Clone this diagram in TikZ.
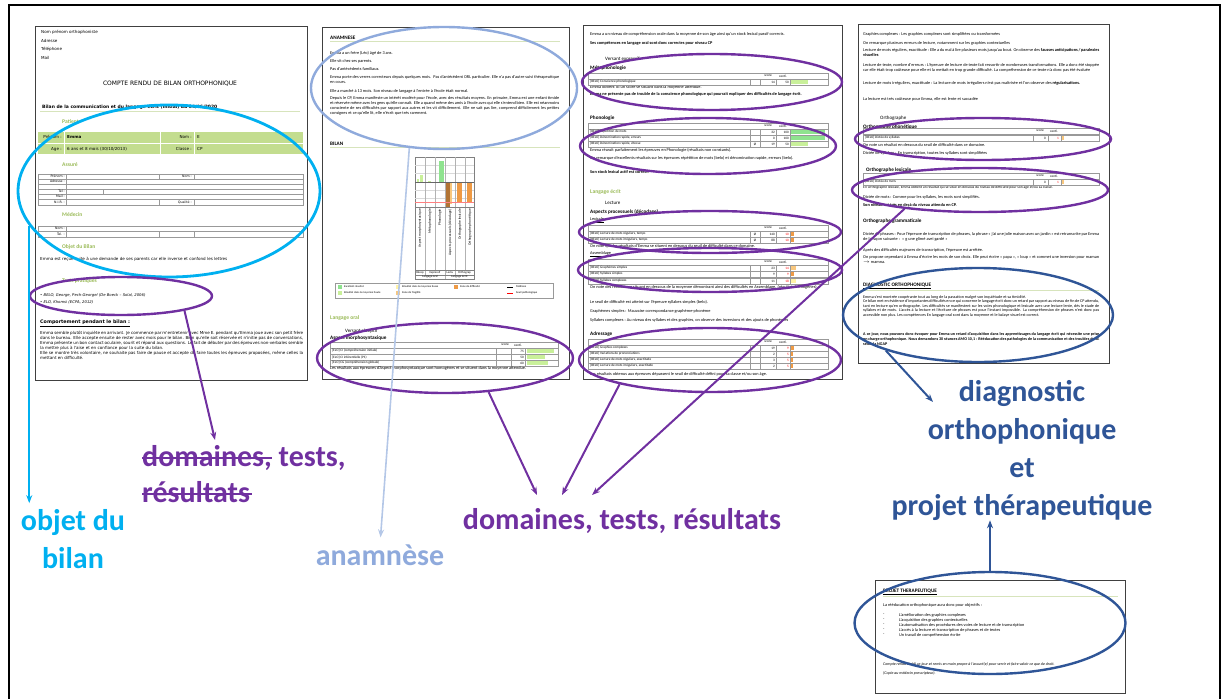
\documentclass[tikz,border=0pt]{standalone}
\usepackage{fontspec}
\setmainfont{Carlito}
\newfontfamily\pageone{DejaVu Sans}
\usetikzlibrary{shapes.geometric, arrows.meta}

\definecolor{objcyan}{HTML}{00B0F0}
\definecolor{testpurple}{HTML}{7030A0}
\definecolor{anaarrow}{HTML}{B4C7E7}
\definecolor{anablue}{HTML}{8FAADC}
\definecolor{diagblue}{HTML}{2F5597}
\definecolor{headgreen}{HTML}{9BBB59}
\definecolor{rulegreen}{HTML}{D7E4BC}
\definecolor{rowgreen}{HTML}{C3DD8F}
\definecolor{barexc}{HTML}{8FE38F}
\definecolor{barhigh}{HTML}{C9F09A}
\definecolor{barlow}{HTML}{FFF2A6}
\definecolor{barfrag}{HTML}{F8C77E}
\definecolor{bardiff}{HTML}{EE9A45}

\begin{document}
\begin{tikzpicture}[x=1pt, y=-1pt,
    page/.style={draw=black!75, line width=0.9pt, fill=white},
    ptxt/.style={anchor=west, inner sep=0pt, font=\fontsize{4.3}{5}\selectfont},
    pbold/.style={ptxt, font=\fontsize{4.3}{5}\selectfont\bfseries},
    ppar/.style={anchor=north west, inner sep=0pt, align=justify, font=\fontsize{4.3}{5}\selectfont},
    phead/.style={anchor=west, inner sep=0pt, font=\fontsize{5.2}{6}\selectfont\bfseries},
    pgreen/.style={anchor=west, inner sep=0pt, text=headgreen, font=\fontsize{5.6}{6}\selectfont\bfseries},
    p1txt/.style={anchor=west, inner sep=0pt, font=\pageone\fontsize{4.1}{4.8}\selectfont},
    p1small/.style={anchor=east, inner sep=0pt, font=\pageone\fontsize{3.2}{4}\selectfont},
    tsmall/.style={inner sep=0pt, font=\fontsize{3.4}{4}\selectfont},
    lgtxt/.style={anchor=west, inner sep=0pt, font=\fontsize{2.8}{3}\selectfont},
    tabline/.style={draw=black!40, line width=0.4pt},
    ell/.style={draw, ellipse, inner sep=0pt, line width=2.4pt},
    arr/.style={line width=2pt, -{Stealth[length=8pt, width=6pt]}},
    biglbl/.style={inner sep=0pt, align=center, font=\fontsize{30}{38}\selectfont\bfseries}
]
\useasboundingbox (0,0) rectangle (1222,698);

% Cadre
\draw[line width=2.6pt] (9,705) -- (9,5) -- (1220,5) -- (1220,705);

% Page 1 : renseignements administratifs
\draw[page] (35,26) rectangle (307,380);
\node[p1txt] (p1nom) at (41,32) {Nom prénom orthophoniste};
\node[p1txt] (p1adr) at (41,41) {Adresse};
\node[p1txt] (p1tel) at (41,49) {Téléphone};
\node[p1txt] (p1mail) at (41,58) {Mail};
\node[inner sep=0pt, font=\pageone\fontsize{6}{7}\selectfont] (p1titre) at (170,84) {COMPTE RENDU DE BILAN ORTHOPHONIQUE};
\node[p1txt, font=\pageone\fontsize{4.5}{5}\selectfont\bfseries] (p1bilan) at (42,107) {Bilan de la communication et du langage écrit (initial) du 04/06/2020};
\draw[rulegreen, line width=0.8pt] (40,111) -- (300,111);
\node[pgreen] (p1pat) at (62,122) {Patient};
\fill[rowgreen] (38,132) rectangle (303,154);
\draw[white, line width=0.6pt] (38,143) -- (303,143);
\foreach \vx in {64,160,194} \draw[white, line width=0.6pt] (\vx,132) -- (\vx,154);
\node[p1txt, anchor=east] (p1pren) at (62,137) {Prénom :};
\node[p1txt, font=\pageone\fontsize{4.1}{4.8}\selectfont\bfseries] (p1emma) at (67,137) {Emma};
\node[p1txt, anchor=east] (p1nomp) at (192,137) {Nom :};
\node[p1txt] (p1e) at (197,137) {E};
\node[p1txt, anchor=east] (p1age) at (62,149) {Age :};
\node[p1txt] (p1ans) at (67,149) {6 ans et 8 mois (30/10/2013)};
\node[p1txt, anchor=east] (p1cl) at (192,149) {Classe :};
\node[p1txt] (p1cp) at (197,149) {CP};

\node[pgreen] (p1ass) at (62,165) {Assuré};
\draw[tabline] (38,174) rectangle (303,205);
\foreach \hy in {179,184,189,194,199} \draw[tabline] (38,\hy) -- (303,\hy);
\draw[tabline] (66,174) -- (66,205) (159,174) -- (159,179) (194,174) -- (194,179)
  (159,199) -- (159,205) (194,199) -- (194,205) (103,189) -- (103,194);
\foreach \ly/\lt [count=\i] in {176.5/Prénom :, 181.5/Adresse :, 191.5/Tel :, 196.5/Mail :, 202/N.I.R. :}
  \node[p1small] (p1as\i) at (65,\ly) {\lt};
\node[p1small] (p1asnom) at (192,176.5) {Nom :};
\node[p1small] (p1asqual) at (192,202) {Qualité :};

\node[pgreen] (p1med) at (62,215) {Médecin};
\draw[tabline] (38,226) rectangle (303,237);
\draw[tabline] (38,231.5) -- (303,231.5) (66,226) -- (66,237) (159,231.5) -- (159,237) (194,231.5) -- (194,237);
\node[p1small] (p1mednom) at (65,228.8) {Nom :};
\node[p1small] (p1medtel) at (65,234.2) {Tel. :};

\node[pgreen] (p1obj) at (62,247) {Objet du Bilan};
\node[p1txt] (p1objt) at (40,259) {Emma est reçue suite à une demande de ses parents car elle inverse et confond les lettres};
\node[pgreen] (p1tests) at (62,281) {Tests pratiqués};
\node[p1txt, font=\pageone\fontsize{3.8}{4.5}\selectfont\itshape] (p1belo) at (40,295) {• BELO, George, Pech-Georgel (De Boeck – Solal, 2006)};
\node[p1txt, font=\pageone\fontsize{3.8}{4.5}\selectfont\itshape] (p1elo) at (40,302) {• ELO, Khomsi (ECPA, 2012)};
\node[p1txt, font=\pageone\fontsize{4.8}{5}\selectfont\bfseries] (p1comp) at (40,323) {\underline{Comportement pendant le bilan :}};
\node[ppar, text width=263pt, font=\pageone\fontsize{4.1}{4.85}\selectfont] (p1para) at (40,331.5) {Emma semble plutôt inquiète en arrivant. Je commence par m'entretenir avec Mme E. pendant qu'Emma joue avec son petit frère dans le bureau. Elle accepte ensuite de rester avec mois pour le bilan. Bien qu'elle soit réservée et n'initie pas de conversations, Emma présente un bon contact oculaire, sourit et répond aux questions. Le fait de débuter par des épreuves non-verbales semble la mettre plus à l'aise et en confiance pour la suite du bilan.\\Elle se montre très volontaire, ne souhaite pas faire de pause et accepte de faire toutes les épreuves proposées, même celles la mettant en difficulté.};

% Page 2 : anamnese et graphique
\draw[page] (322,27) rectangle (569,379);
\node[phead] (p2ana) at (330,38) {ANAMNESE};
\draw[rulegreen, line width=0.8pt] (330,41) -- (560,41);
\node[ptxt] (p2a) at (330,53) {Emma a un frère (Léo) âgé de 3 ans.};
\node[ptxt] (p2b) at (330,61) {Elle vit chez ses parents.};
\node[ptxt] (p2c) at (330,69) {Pas d'antécédents familiaux.};
\node[ppar, text width=229pt] (p2d) at (330,75.5) {Emma porte des verres correcteurs depuis quelques mois.~ Pas d'antécédent ORL particulier. Elle n'a pas d'autre suivi thérapeutique en cours.};
\node[ptxt] (p2e) at (330,91) {Elle a marché à 13 mois. Son niveau de langage à l'entrée à l'école était normal.};
\node[ppar, text width=229pt] (p2f) at (330,96.5) {Depuis le CP, Emma manifeste un intérêt modéré pour l'école, avec des résultats moyens. En primaire, Emma est une enfant timide et réservée même avec les gens qu'elle connaît. Elle a quand même des amis à l'école avec qui elle s'entend bien. Elle est néanmoins consciente de ses difficultés par rapport aux autres et les vit difficilement. Elle ne sait pas lire, comprend difficilement les petites consignes et ce qu'elle lit, elle n'écrit que très rarement.};
\node[phead] (p2bilan) at (330,144) {BILAN};
\draw[rulegreen, line width=0.8pt] (330,147) -- (560,147);

% Graphique
\draw[black!50, line width=0.5pt] (415,157) rectangle (474,279);
\foreach \gy in {165,173,190,198} \draw[black!15, line width=0.3pt] (415,\gy) -- (474,\gy);
\foreach \gx in {435,465} \draw[black!30, line width=0.3pt] (\gx,157) -- (\gx,270);
\foreach \gx in {425,455} \draw[black!30, line width=0.3pt] (\gx,157) -- (\gx,275);
\draw[black!30, line width=0.3pt] (445,157) -- (445,279);
\fill[barhigh] (417,182) rectangle (419,179);
\fill[barhigh] (420,182) rectangle (423,175);
\fill[barhigh] (428,182) rectangle (431,180.5);
\fill[barexc] (439,182) rectangle (444,161);
\fill[bardiff!75!black] (446,182) rectangle (450,207);
\fill[barfrag] (450,182) rectangle (452,204);
\fill[bardiff] (457,182) rectangle (462,202);
\fill[bardiff] (467,182) rectangle (472,202);
\draw[red!50, line width=0.8pt] (415,202) -- (474,202);
\draw[black!60, line width=0.4pt] (415,182) -- (474,182);
\draw[black!50, line width=0.4pt] (415,207) -- (474,207) (415,270) -- (474,270) (415,275) -- (474,275);
\foreach \cx/\cl [count=\i] in {420/Aspect morphosyntaxique, 430/Métaphonologie, 440/Phonologie,
    450/Aspects processuels (décodage), 460/Orthographe lexicale, 470/Orthographe phonétique}
  \node[rotate=90, anchor=east, inner sep=0pt, font=\fontsize{3.6}{4}\selectfont] (gl\i) at (\cx,209) {\cl};
\foreach \cx/\cl [count=\i] in {420/Récep, 435/Expressif, 450/Lectu, 464.5/Orthograp}
  \node[tsmall, font=\fontsize{3}{3.5}\selectfont] (gr\i) at (\cx,272.6) {\cl};
\node[tsmall, font=\fontsize{3}{3.5}\selectfont] (grorale) at (430,277.2) {Langage oral};
\node[tsmall, font=\fontsize{3}{3.5}\selectfont] (grecrit) at (459.5,277.2) {Langage écrit};

% Legende
\draw[black!40, line width=0.4pt] (335,283) rectangle (553,298);
\foreach \lx/\ly/\lc/\lt [count=\i] in {338/287/barexc/Excellent résultat, 338/293/barhigh/Résultat dans la moyenne haute,
    396/287/barlow/Résultat dans la moyenne basse, 396/293/barfrag/Zone de fragilité, 454/287/bardiff/Zone de difficulté} {
  \fill[\lc] (\lx,\ly-2) rectangle ++(4,4);
  \node[lgtxt] (lg\i) at (\lx+6,\ly) {\lt};
}
\draw[black, line width=0.6pt] (507,287) -- (513,287);
\node[lgtxt] (lgmed) at (516,287) {Médiane};
\draw[red, line width=0.6pt] (507,293) -- (513,293);
\node[lgtxt] (lgseuil) at (516,293) {Seuil pathologique};

\node[pgreen] (p2oral) at (330,318) {Langage oral};
\node[ptxt, font=\fontsize{5}{6}\selectfont] (p2rec) at (345,331) {Versant réceptif};
\node[phead] (p2morph) at (330,338) {Aspect morphosyntaxique};
\draw[tabline] (330,342) rectangle (558,348);
\node[tsmall] (p2sc) at (505,345) {score};
\node[tsmall] (p2ce) at (518,345) {centi.};
\foreach \ry/\rn/\rs/\rw [count=\i] in {351/{[ELO] CI (compréhension initiale)}/75/27,
    357/{[ELO] CI inférentielle (P1)}/50/18, 363/{[ELO] CG (compréhension globale)}/60/21} {
  \draw[tabline] (330,\ry-3) rectangle (558,\ry+3);
  \draw[tabline] (496,\ry-3) -- (496,\ry+3) (511,\ry-3) -- (511,\ry+3) (525,\ry-3) -- (525,\ry+3);
  \node[tsmall, anchor=west] (t2n\i) at (332,\ry) {\rn};
  \node[tsmall, anchor=east] (t2c\i) at (524,\ry) {\rs};
  \fill[barhigh] (527,\ry-2.2) rectangle ++(\rw,4.4);
}
\node[ptxt] (p2res) at (330,368.5) {Les résultats aux épreuves d'Aspect morphosyntaxique sont homogènes et se situent dans la moyenne attendue.};

% Page 3 : langage oral et lecture
\draw[page] (583,25) rectangle (842,379);
\node[ptxt] (p3a) at (590,34) {Emma a un niveau de compréhension orale dans la moyenne de son âge ainsi qu'un stock lexical passif corrects.};
\node[pbold] (p3b) at (590,43) {Ses compétences en langage oral sont donc correctes pour niveau CP};
\node[ptxt, font=\fontsize{5}{6}\selectfont] (p3c) at (605,59) {Versant expressif};
\node[phead] (p3d) at (590,68) {Métaphonologie};
\node[ptxt] (p3e) at (590,87) {Emma obtient ici un score se situant dans la moyenne attendue.};
\node[ppar, text width=240pt, font=\fontsize{4.3}{5}\selectfont\bfseries] (p3f) at (590,92.5) {Emma ne présente pas de trouble de la conscience phonologique qui pourrait expliquer des difficultés de langage écrit.};
\node[phead] (p3g) at (590,118) {Phonologie};
\node[ptxt] (p3h) at (590,150) {Emma réussit parfaitement les épreuves en Phonologie (résultats non constants).};
\node[ppar, text width=240pt] (p3i) at (590,156) {On remarque d'excellents résultats sur les épreuves répétition de mots (belo) et dénomination rapide, erreurs (belo).};
\node[pbold] (p3j) at (590,172) {Son stock lexical actif est correct.};
\node[pgreen] (p3k) at (590,192) {Langage écrit};
\node[ptxt, font=\fontsize{5}{6}\selectfont] (p3l) at (605,203) {Lecture};
\node[phead] (p3m) at (590,212) {Aspects processuels (décodage)};
\node[ptxt] (p3n) at (590,220) {\underline{Lexicale}};
\node[ptxt] (p3o) at (590,246.5) {On note que les résultats d'Emma se situent en dessous du seuil de difficulté dans ce domaine.};
\node[ptxt] (p3p) at (590,254) {\underline{Assemblage}};
\node[ppar, text width=240pt] (p3q) at (590,285) {On note des résultats se situant en dessous de la moyenne démontrant ainsi des difficultés en Assemblage. (résultats homogènes).};
\node[ptxt] (p3r) at (590,302) {Le seuil de difficulté est atteint sur l'épreuve syllabes simples (belo).};
\node[ptxt] (p3s) at (590,311) {Graphèmes simples : Mauvaise correspondance graphème-phonème};
\node[ptxt] (p3t) at (590,320) {Syllabes complexes : Au niveau des syllabes et des graphies, on observe des inversions et des ajouts de phonèmes};
\node[phead] (p3u) at (590,334) {Adressage};
\node[ptxt] (p3v) at (590,374) {Les résultats obtenus aux épreuves dépassent le seuil de difficulté défini pour sa classe et/ou son âge.};

% Tableaux de la page 3
\foreach \hy [count=\i] in {76,126,228,262,342} {
  \draw[tabline] (588,\hy-3) rectangle (828,\hy+3);
  \node[tsmall] (h3s\i) at (768,\hy) {score};
  \node[tsmall] (h3c\i) at (783,\hy) {centi.};
}
\foreach \ry/\rn/\rz/\rs/\rc/\rk/\rw/\rf [count=\i] in {
    82/{[BELO] Conscience phonologique}/{}/14/50/black/17/barhigh,
    132/{[BELO] Répétition de mots}/{}/32/100/black/34/barexc,
    138/{[BELO] Dénomination rapide, erreurs}/{}/0/100/black/34/barexc,
    144/{[BELO] Dénomination rapide, vitesse}/Ø/19/50/black/17/barhigh,
    234/{[BELO] Lecture de mots réguliers, temps}/Ø/140/10/red/3/bardiff,
    240/{[BELO] Lecture de mots irréguliers, temps}/Ø/88/10/red/3/bardiff,
    268/{[BELO] Graphèmes simples}/{}/23/14/red/5/barfrag,
    274/{[BELO] Syllabes simples}/{}/9/9/red/3/bardiff,
    281/{[BELO] Syllabes complexes}/{}/11/18/red/5/barlow,
    348/{[BELO] Graphies complexes}/{}/19/9/red/3/bardiff,
    354/{[BELO] Variations de prononciations}/{}/2/5/red/1.5/bardiff,
    360/{[BELO] Lecture de mots réguliers, exactitude}/{}/3/5/red/1.5/bardiff,
    366/{[BELO] Lecture de mots irréguliers, exactitude}/{}/2/5/red/1.5/bardiff} {
  \draw[tabline] (588,\ry-3) rectangle (828,\ry+3);
  \draw[tabline] (750,\ry-3) -- (750,\ry+3) (760,\ry-3) -- (760,\ry+3) (776,\ry-3) -- (776,\ry+3) (790,\ry-3) -- (790,\ry+3);
  \node[tsmall, anchor=west] (t3n\i) at (590,\ry) {\rn};
  \node[tsmall] (t3z\i) at (755,\ry) {\rz};
  \node[tsmall, anchor=east] (t3s\i) at (775,\ry) {\rs};
  \node[tsmall, anchor=east, text=\rk] (t3c\i) at (789,\ry) {\rc};
  \fill[\rf] (791,\ry-2.2) rectangle ++(\rw,4.4);
}

% Page 4 : orthographe et diagnostic
\draw[page] (858,24) rectangle (1109,363);
\node[ptxt] (p4a) at (863,34) {Graphies complexes : Les graphies complexes sont simplifiées ou transformées};
\node[ptxt] (p4b) at (863,43) {On remarque plusieurs erreurs de lecture, notamment sur les graphies contextuelles};
\node[ppar, text width=236pt] (p4c) at (863,48.5) {Lecture de mots réguliers, exactitude : Elle a du mal à lire plusieurs mots jusqu'au bout. On observe des \textbf{fausses anticipations / paralexies visuelles}};
\node[ppar, text width=236pt] (p4d) at (863,63.5) {Lecture de texte, nombre d'erreurs : L'épreuve de lecture de texte fait ressortir de nombreuses transformations. Elle a donc été stoppée car elle était trop coûteuse pour elle et la mettait en trop grande difficulté. La compréhension de ce texte n'a donc pas été évaluée};
\node[ppar, text width=236pt] (p4e) at (863,81.5) {Lecture de mots irréguliers, exactitude : La lecture de mots irréguliers n'est pas maîtrisée et l'on observe des \textbf{régularisations.}};
\node[ptxt] (p4f) at (863,99) {La lecture est très coûteuse pour Emma, elle est lente et saccadée};
\node[ptxt, font=\fontsize{5}{6}\selectfont] (p4g) at (880,118) {Orthographe};
\node[phead] (p4h) at (863,127) {Orthographe phonétique};
\node[ptxt] (p4i) at (863,145) {On note un résultat en dessous du seuil de difficulté dans ce domaine.};
\node[ptxt] (p4j) at (863,153) {Dictée de syllabes : En transcription, toutes les syllabes sont simplifiées};
\node[phead] (p4k) at (866,170) {Orthographe lexicale};
\node[ptxt, font=\fontsize{3.7}{4.5}\selectfont] (p4l) at (863,188) {En Orthographe lexicale, Emma obtient un résultat qui se situe en dessous du niveau de difficulté pour son âge et/ou sa classe.};
\node[ptxt] (p4m) at (863,197) {Dictée de mots : Comme pour les syllabes, les mots sont simplifiés.};
\node[pbold] (p4n) at (863,205) {Son niveau est très en deçà du niveau attendu en CP.};
\node[phead] (p4o) at (863,221) {Orthographe grammaticale};
\node[ppar, text width=236pt] (p4p) at (863,232.5) {Dictée de phrases : Pour l'épreuve de transcription de phrases, la phrase « j'ai une jolie maison avec un jardin » est retranscrite par Emma de la façon suivante :~ « g une glimé avei gardé »};
\node[ptxt] (p4q) at (863,250) {Après des difficultés majeures de transcription, l'épreuve est arrêtée.};
\node[ppar, text width=236pt] (p4r) at (863,255.5) {On propose cependant à Emma d'écrire les mots de son choix. Elle peut écrire « papa », « loup » et commet une inversion pour maman $\to$ mamna.};
\node[phead] (p4s) at (863,286) {\underline{DIAGNOSTIC ORTHOPHONIQUE}};
\draw[rulegreen, line width=0.8pt] (863,290) -- (1099,290);
\node[ppar, text width=236pt, font=\fontsize{4.1}{4.6}\selectfont] (p4t) at (863,295) {Emma s'est montrée coopérante tout au long de la passation malgré son inquiétude et sa timidité.\\Ce bilan met en évidence d'importantes difficultés en ce qui concerne le langage écrit donc un retard par rapport au niveau de fin de CP attendu, tant en lecture qu'en orthographe. Les difficultés se manifestent sur les voies phonologique et lexicale avec une lecture lente, dès le stade de syllabes et de mots. L'accès à la lecture et l'écriture de phrases est pour l'instant impossible. La compréhension de phrases n'est donc pas accessible non plus. Les compétences En langage oral sont dans la moyenne et le balaye visuel est correct.};
\node[ppar, text width=236pt, font=\fontsize{4.1}{4.8}\selectfont\bfseries] (p4u) at (863,332.5) {A ce jour, nous pouvons donc évoquer pour Emma un retard d'acquisition dans les apprentissages du langage écrit qui nécessite une prise en charge orthophonique. Nous demandons 30 séances AMO 10,1 : Rééducation des pathologies de la communication et des troubles du LE selon la NGAP};

% Tableaux de la page 4
\foreach \hy [count=\i] in {131,176} {
  \draw[tabline] (863,\hy-3) rectangle (1099,\hy+3);
  \node[tsmall] (h4s\i) at (1040,\hy) {score};
  \node[tsmall] (h4c\i) at (1054,\hy) {centi.};
}
\foreach \ry/\rn [count=\i] in {138/{[BELO] Dictée de syllabes}, 182/{[BELO] Dictée de mots}} {
  \draw[tabline] (863,\ry-3) rectangle (1099,\ry+3);
  \draw[tabline] (1033,\ry-3) -- (1033,\ry+3) (1048,\ry-3) -- (1048,\ry+3) (1061,\ry-3) -- (1061,\ry+3);
  \node[tsmall, anchor=west] (t4n\i) at (865,\ry) {\rn};
  \node[tsmall, anchor=east] (t4s\i) at (1046,\ry) {0};
  \node[tsmall, anchor=east, text=red] (t4c\i) at (1059,\ry) {1};
  \fill[barfrag] (1062,\ry-2.2) rectangle ++(1.5,4.4);
}

% Page 5 : projet therapeutique
\draw[page] (875,580) rectangle (1125,693);
\node[phead] (p5a) at (883,592) {\underline{PROJET THERAPEUTIQUE}};
\draw[rulegreen, line width=0.8pt] (883,596) -- (1118,596);
\node[ptxt] (p5b) at (883,605) {La rééducation orthophonique aura donc pour objectifs :};
\foreach \oy/\ot [count=\i] in {615/L'amélioration des graphies complexes, 620/L'acquisition des graphies contextuelles,
    625/L'automatisation des procédures des voies de lecture et de transcription,
    630/L'accès à la lecture et transcription de phrases et de textes, 635/Un travail de compréhension écrite} {
  \node[ptxt] (p5t\i) at (883,\oy) {-};
  \node[ptxt] (p5o\i) at (899,\oy) {\ot};
}
\node[ptxt, font=\fontsize{4}{5}\selectfont\itshape] (p5c) at (883,664) {Compte rendu établi ce jour et remis en main propre à l'assuré(e) pour servir et faire valoir ce que de droit.};
\node[ptxt, font=\fontsize{4}{5}\selectfont\itshape] (p5d) at (883,673) {(Copie au médecin prescripteur).};

% Ellipses
\node[ell, draw=objcyan, line width=2.8pt, minimum width=302pt, minimum height=172pt] (objell) at (169,191) {};
\node[ell, draw=testpurple, minimum width=182pt, minimum height=38pt] (tpell) at (121,296) {};
\node[ell, draw=anablue, minimum width=266pt, minimum height=122pt] (anaell) at (444,88) {};
\node[ell, draw=testpurple, minimum width=256pt, minimum height=70pt] (oralell) at (445,358) {};
\node[ell, draw=testpurple, minimum width=260pt, minimum height=56pt] (metaell) at (712,82) {};
\node[ell, draw=testpurple, minimum width=256pt, minimum height=56pt] (phonell) at (708,146) {};
\node[ell, draw=testpurple, minimum width=262pt, minimum height=42pt] (lexell) at (710,232) {};
\node[ell, draw=testpurple, minimum width=264pt, minimum height=44pt] (assell) at (710,270) {};
\node[ell, draw=testpurple, minimum width=262pt, minimum height=64pt] (adrell) at (710,360) {};
\node[ell, draw=testpurple, minimum width=256pt, minimum height=42pt] (orphell) at (983,139) {};
\node[ell, draw=testpurple, minimum width=256pt, minimum height=44pt] (orlexell) at (980,190) {};
\node[ell, draw=diagblue, minimum width=270pt, minimum height=94pt] (diagell) at (978,315) {};
\node[ell, draw=diagblue, minimum width=271pt, minimum height=102pt] (projell) at (990,623) {};

% Etiquettes
\node[biglbl, text=objcyan] (objlbl) at (73,539) {objet du\\bilan};
\node[biglbl, text=testpurple, anchor=west, align=left, font=\fontsize{30}{36}\selectfont\bfseries] (strikelbl) at (142,474) {domaines, tests,\\résultats};
\draw[testpurple, line width=2.2pt] (strikelbl.north west) ++(0,13) -- ++(130,0);
\draw[testpurple, line width=2.2pt] (strikelbl.north west) ++(0,49) -- ++(110,0);
\node[biglbl, text=anablue] (anamlbl) at (380,555) {anamnèse};
\node[biglbl, text=testpurple] (domlbl) at (622,521) {domaines, tests, résultats};
\node[biglbl, text=diagblue] (diaglbl) at (1022,450) {diagnostic\\orthophonique\\et\\projet thérapeutique};

% Fleches
\coordinate (strtip) at (215,440);
\coordinate (dt1) at (537,495);
\coordinate (dt2) at (562,495);
\coordinate (dt3) at (592,495);
\coordinate (diagtip) at (933,402);
\draw[arr, objcyan, shorten >=6pt] (objell.194) -- (objell.194 |- objlbl.north);
\draw[arr, testpurple] (tpell.347) -- (strtip);
\draw[arr, anaarrow, line width=1.6pt, shorten >=7pt] (anaell.240) -- (anamlbl.north);
\draw[arr, testpurple] (oralell.322) -- (dt1);
\draw[arr, testpurple] (adrell.195) -- (dt2);
\draw[arr, testpurple] (orlexell.194) -- (dt3);
\draw[arr, diagblue] (diagell.201) -- (diagtip);
\draw[arr, diagblue] (projell.north) -- (projell.north |- diaglbl.south);
\end{tikzpicture}
\end{document}
